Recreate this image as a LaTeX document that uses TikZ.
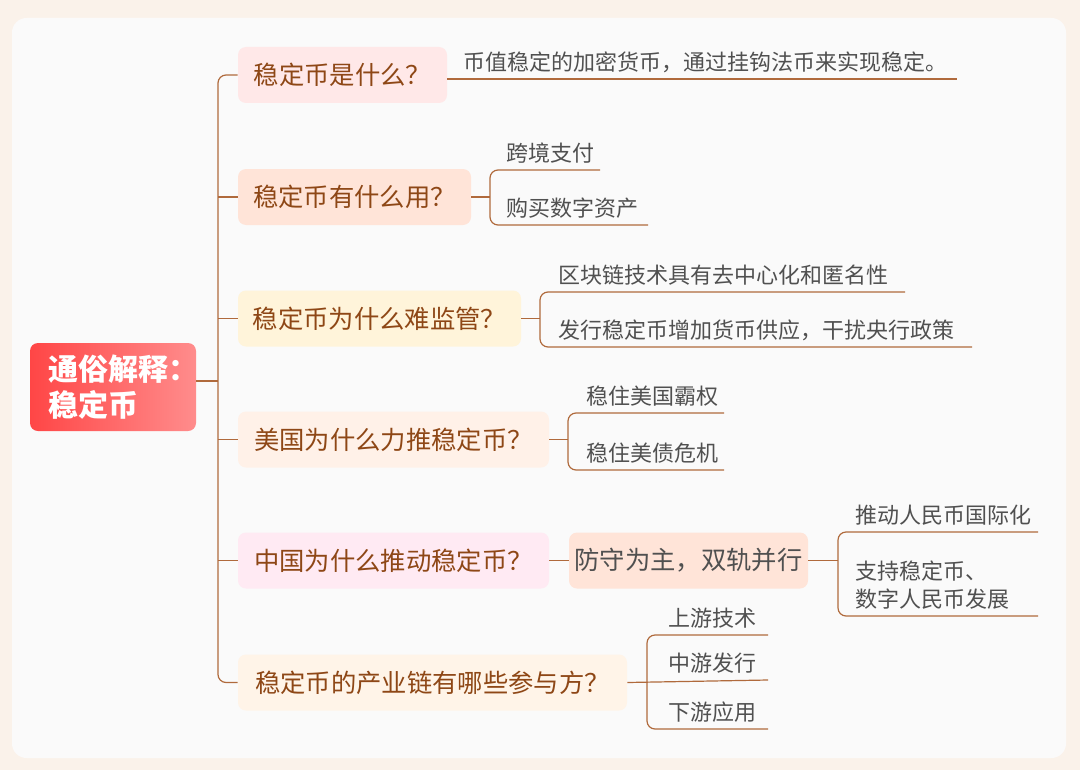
\documentclass[tikz,border=0pt]{standalone}
\usepackage{fontspec}
\setmainfont{Noto Sans CJK SC}
\usetikzlibrary{positioning}
\definecolor{bgpage}{HTML}{FAF2EA}
\definecolor{panel}{HTML}{FAFAFA}
\definecolor{linec}{HTML}{B06A3C}
\definecolor{branchtxt}{HTML}{8E4716}
\definecolor{leaftxt}{HTML}{505050}
\definecolor{rootA}{HTML}{FF4646}
\definecolor{rootB}{HTML}{FF8C8C}
\definecolor{fillA}{HTML}{FFE8E8}
\definecolor{fillB}{HTML}{FFE4D8}
\definecolor{fillC}{HTML}{FFF4DA}
\definecolor{fillD}{HTML}{FFF1E8}
\definecolor{fillE}{HTML}{FFEAF3}
\definecolor{fillF}{HTML}{FFF4E8}
\tikzset{
  branch/.style={rounded corners=6pt, inner sep=0pt, text=branchtxt,
    font=\fontsize{19}{22}\selectfont},
  leaf/.style={anchor=south west, inner sep=0pt, text=leaftxt,
    font=\fontsize{16.5}{21}\selectfont, align=left},
  link/.style={draw=linec, line width=0.9pt, rounded corners=6pt},
}
\begin{document}
\begin{tikzpicture}[x=0.75pt,y=-0.75pt]
        \fill[bgpage] (0,0) rectangle (1080,770);
        \useasboundingbox (0,0) rectangle (1080,770);
        \fill[panel, rounded corners=11pt] (12,18) rectangle (1066,758);
        % root
        \shade[left color=rootA, right color=rootB, rounded corners=6pt] (30,343) rectangle (196,431);
        \node (root) [anchor=west, text=white, align=left, font=\bfseries\fontsize{22.5}{27}\selectfont] at (44,387) {通俗解释：\\稳定币};
        \coordinate (rootR) at (196,381);
        % branches
        \node (b1) [branch, fill=fillA] [minimum width=209*0.75pt, minimum height=56*0.75pt] at (342.5,75) {稳定币是什么？};
        \node (b2) [branch, fill=fillB] [minimum width=233*0.75pt, minimum height=56*0.75pt] at (354.5,197) {稳定币有什么用？};
        \node (b3) [branch, fill=fillC] [minimum width=283*0.75pt, minimum height=56*0.75pt] at (379.5,318.5) {稳定币为什么难监管？};
        \node (b4) [branch, fill=fillD] [minimum width=311*0.75pt, minimum height=56*0.75pt] at (393.5,439.5) {美国为什么力推稳定币？};
        \node (b5) [branch, fill=fillE] [minimum width=311*0.75pt, minimum height=56*0.75pt] at (393.5,560.5) {中国为什么推动稳定币？};
        \node (b6) [branch, fill=fillF] [minimum width=389*0.75pt, minimum height=56*0.75pt] at (432.5,682.5) {稳定币的产业链有哪些参与方？};
        \node (b5a) [branch, fill=fillB, text=leaftxt] [minimum width=239*0.75pt, minimum height=56*0.75pt] at (688.5,560.5) {防守为主，双轨并行};
        % trunk
        \draw[link] (b1.west) -| (218,381) |- (b6.west);
        \draw[link] (rootR) -- (218,381);
        \foreach \b in {b2,b3,b4,b5}
                \draw[link] (218,0 |- \b.west) -- (\b.west);
        % leaves of b1
        \node (l1) [leaf] at (463,73) {币值稳定的加密货币，通过挂钩法币来实现稳定。};
        \draw[link] (b1.east |- 0,79) -- (957,79);
        % leaves of b2
        \node (l2a) [leaf] at (506,164) {跨境支付};
        \node (l2b) [leaf] at (506,219) {购买数字资产};
        \draw[link] (b2.east) -- (490,197);
        \draw[link] (600,170) -| (490,197) |- (648,225);
        % leaves of b3
        \node (l3a) [leaf] at (558,286) {区块链技术具有去中心化和匿名性};
        \node (l3b) [leaf] at (558,341) {发行稳定币增加货币供应，干扰央行政策};
        \draw[link] (b3.east) -- (540,318.5);
        \draw[link] (905,292) -| (540,318.5) |- (972,347);
        % leaves of b4
        \node (l4a) [leaf] at (586,407) {稳住美国霸权};
        \node (l4b) [leaf] at (586,464) {稳住美债危机};
        \draw[link] (b4.east) -- (568,439.5);
        \draw[link] (724,413) -| (568,439.5) |- (724,470);
        % leaves of b5
        \draw[link] (b5.east) -- (b5a.west);
        \node (l5a) [leaf] at (855,526) {推动人民币国际化};
        \node (l5b) [leaf] at (855,610) {支持稳定币、\\数字人民币发展};
        \draw[link] (b5a.east) -- (838,560.5);
        \draw[link] (1038,532) -| (838,560.5) |- (1038,616);
        % leaves of b6
        \node (l6a) [leaf] at (668,629) {上游技术};
        \node (l6b) [leaf] at (668,674) {中游发行};
        \node (l6c) [leaf] at (668,723) {下游应用};
        \draw[link] (b6.east) -- (768,680);
        \draw[link] (768,635) -| (647,680) |- (768,729);
\end{tikzpicture}
\end{document}
